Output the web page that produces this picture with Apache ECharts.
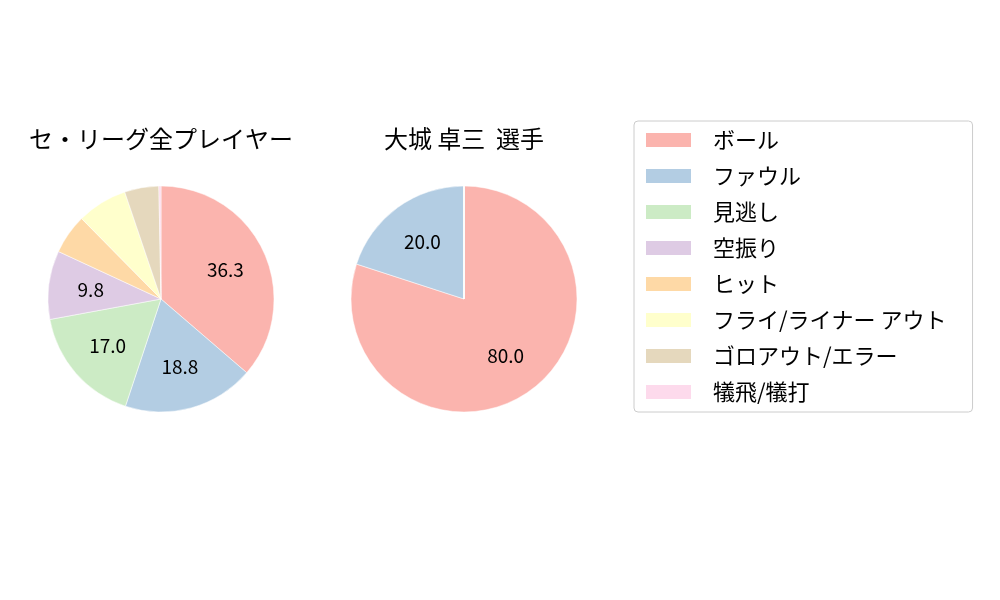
<!DOCTYPE html>
<html>
<head>
<meta charset="utf-8">
<script src="https://cdn.jsdelivr.net/npm/echarts@6/dist/echarts.min.js"></script>
<style>
  html, body { margin: 0; padding: 0; background: #fff; }
  #chart { width: 1000px; height: 600px; }
</style>
</head>
<body>
<div id="chart"></div>
<script>
const categories = ['ボール', 'ファウル', '見逃し', '空振り', 'ヒット', 'フライ/ライナー アウト', 'ゴロアウト/エラー', '犠飛/犠打'];
const leagueValues = [36.3, 18.8, 17.0, 9.8, 5.7, 7.2, 4.9, 0.3];
const playerValues = [80.0, 20.0, 0, 0, 0, 0, 0, 0];
const titles = ['セ・リーグ全プレイヤー', '大城 卓三  選手'];
const colors = ['#fbb4ae', '#b3cde3', '#ccebc5', '#decbe4', '#fed9a6', '#ffffcc', '#e5d8bd', '#fddaec'];

const font = '"Noto Sans CJK JP", "Noto Sans", sans-serif';
const centers = [[161, 299], [464, 299]];
const radius = 113;

const toData = (vals) => categories.map((name, i) => ({ name: name, value: vals[i] }));

// pie slices
const pieSeries = [leagueValues, playerValues].map((vals, k) => ({
  type: 'pie',
  center: centers[k],
  radius: [0, radius],
  startAngle: 90,
  clockwise: true,
  silent: true,
  label: { show: false },
  labelLine: { show: false },
  itemStyle: { borderColor: '#fff', borderWidth: 0.5 },
  data: toData(vals),
}));

// invisible copies only for the percentage labels (placed at 0.6 * radius)
const labelSeries = [leagueValues, playerValues].map((vals, k) => ({
  type: 'pie',
  center: centers[k],
  radius: [0, radius * 1.2],
  startAngle: 90,
  clockwise: true,
  silent: true,
  itemStyle: { color: 'rgba(0,0,0,0)' },
  labelLine: { show: false },
  label: {
    show: true,
    position: 'inside',
    fontFamily: font,
    fontSize: 19,
    color: '#000',
    formatter: (p) => (p.value >= 8 ? p.value.toFixed(1) : ''),
  },
  data: toData(vals),
}));

const chart = echarts.init(document.getElementById('chart'));
chart.setOption({
  animation: false,
  color: colors,
  title: titles.map((t, k) => ({
    text: t,
    left: centers[k][0],
    top: 127,
    padding: 0,
    textAlign: 'center',
    textStyle: { fontFamily: font, fontSize: 24, fontWeight: 'normal', color: '#000' },
  })),
  legend: {
    orient: 'vertical',
    left: 634,
    top: 121,
    data: categories,
    itemWidth: 47,
    itemHeight: 16,
    itemGap: 14,
    icon: 'rect',
    padding: [8, 26, 9, 10],
    borderColor: '#cccccc',
    borderWidth: 1,
    borderRadius: 4,
    textStyle: { fontFamily: font, fontSize: 22, color: '#000', padding: [0, 0, 0, 16] },
  },
  series: pieSeries.concat(labelSeries),
});
</script>
</body>
</html>
